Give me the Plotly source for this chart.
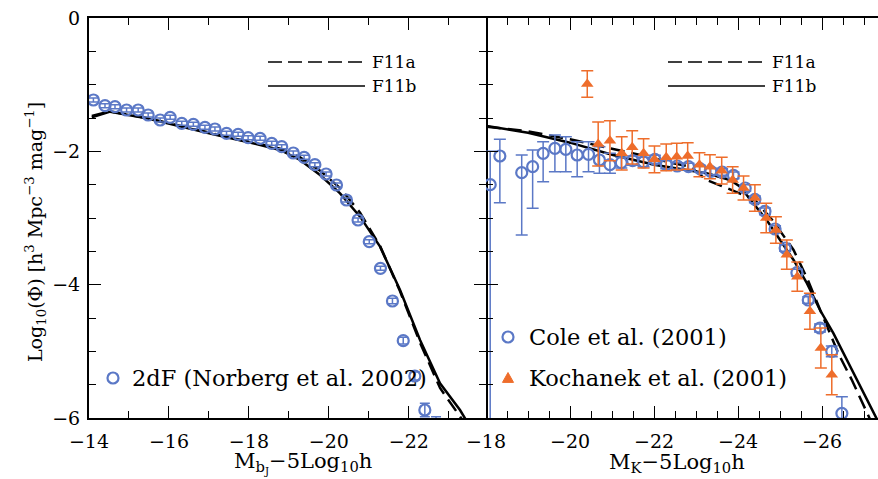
import plotly.graph_objects as go

# ---------------- data ----------------
# Left panel: 2dF bJ luminosity function (Norberg et al. 2002)
m_2df = [-14.11, -14.40, -14.65, -14.94, -15.23, -15.48, -15.78, -16.03, -16.32, -16.61,
         -16.90, -17.15, -17.44, -17.73, -17.98, -18.28, -18.57, -18.82, -19.11, -19.38,
         -19.65, -19.93, -20.19, -20.44, -20.73, -21.01, -21.29, -21.59, -21.86, -22.15,
         -22.40, -22.68]
phi_2df = [-1.23, -1.315, -1.33, -1.38, -1.38, -1.455, -1.53, -1.49, -1.58, -1.595,
           -1.64, -1.665, -1.73, -1.745, -1.795, -1.805, -1.88, -1.93, -2.025, -2.09,
           -2.20, -2.34, -2.505, -2.73, -3.03, -3.355, -3.755, -4.245, -4.84, -5.37,
           -5.88, -6.10]
err_2df = [0.03, 0.03, 0.03, 0.03, 0.03, 0.03, 0.03, 0.03, 0.03, 0.03,
           0.03, 0.03, 0.03, 0.03, 0.03, 0.03, 0.03, 0.03, 0.03, 0.03,
           0.03, 0.03, 0.03, 0.03, 0.03, 0.03, 0.03, 0.04, 0.05, 0.06,
           0.10, 0.12]

# Left panel models
m_left_a = [-14.07, -14.53, -15.44, -16.28, -17.11, -17.94, -18.78, -19.28, -19.78, -20.28,
            -20.78, -21.28, -21.78, -22.28, -22.78, -23.28, -23.40]
phi_left_a = [-1.47, -1.40, -1.50, -1.62, -1.74, -1.85, -1.96, -2.09, -2.29, -2.55,
              -2.92, -3.42, -4.10, -4.87, -5.55, -5.98, -6.08]
m_left_b = [-14.07, -14.53, -15.44, -16.28, -17.11, -17.94, -18.78, -19.28, -19.78, -20.28,
            -20.78, -21.28, -21.78, -22.28, -22.78, -23.28, -23.45]
phi_left_b = [-1.49, -1.405, -1.505, -1.63, -1.745, -1.855, -1.98, -2.13, -2.355, -2.63,
              -2.98, -3.43, -4.08, -4.83, -5.48, -5.88, -6.05]

# Right panel: K-band, Cole et al. (2001)
m_cole = [-18.10, -18.33, -18.85, -19.11, -19.36, -19.64, -19.90, -20.17, -20.44, -20.70,
          -20.95, -21.22, -21.49, -21.75, -22.02, -22.29, -22.55, -22.82, -23.09, -23.35,
          -23.62, -23.89, -24.17, -24.40, -24.64, -24.88, -25.12, -25.40, -25.67, -25.95,
          -26.23, -26.47]
phi_cole = [-2.50, -2.07, -2.32, -2.23, -2.03, -1.955, -1.97, -2.055, -2.045, -2.13,
            -2.20, -2.17, -2.14, -2.16, -2.12, -2.20, -2.22, -2.23, -2.26, -2.30,
            -2.31, -2.36, -2.55, -2.72, -2.90, -3.165, -3.45, -3.82, -4.23, -4.65,
            -5.00, -5.93]
err_cole_up = [0.50, 0.25, 0.265, 0.25, 0.175, 0.20, 0.19, 0.20, 0.19, 0.20,
               0.17, 0.08, 0.07, 0.07, 0.06, 0.06, 0.05, 0.05, 0.05, 0.05,
               0.05, 0.05, 0.05, 0.05, 0.05, 0.05, 0.05, 0.05, 0.05, 0.06,
               0.08, 0.25]
err_cole_dn = [4.00, 0.70, 0.935, 0.625, 0.425, 0.35, 0.335, 0.325, 0.26, 0.20,
               0.13, 0.08, 0.07, 0.07, 0.06, 0.06, 0.05, 0.05, 0.05, 0.05,
               0.05, 0.05, 0.05, 0.05, 0.05, 0.05, 0.05, 0.05, 0.05, 0.06,
               0.08, 0.30]

# Right panel: Kochanek et al. (2001)
m_koch = [-20.41, -20.67, -20.95, -21.23, -21.48, -21.75, -22.01, -22.29, -22.54, -22.80,
          -23.08, -23.33, -23.61, -23.87, -24.13, -24.40, -24.67, -24.90, -25.16, -25.41,
          -25.71, -25.97, -26.23]
phi_koch = [-0.99, -1.89, -1.84, -2.03, -1.94, -2.03, -2.12, -2.09, -2.08, -2.07,
            -2.20, -2.23, -2.29, -2.43, -2.55, -2.70, -3.00, -3.18, -3.55, -3.88,
            -4.40, -4.95, -5.35]
err_koch = [0.20, 0.33, 0.30, 0.25, 0.25, 0.22, 0.20, 0.20, 0.20, 0.20,
            0.18, 0.18, 0.20, 0.20, 0.18, 0.20, 0.22, 0.20, 0.22, 0.22,
            0.27, 0.30, 0.30]

# Right panel models
m_right_a = [-18.02, -19.0, -20.0, -21.0, -21.67, -22.46, -22.86, -23.25, -23.73, -24.40,
             -24.84, -25.32, -25.64, -26.00, -26.40, -26.70, -27.10, -27.20]
phi_right_a = [-1.63, -1.70, -1.82, -1.96, -2.055, -2.18, -2.23, -2.43, -2.55, -2.73,
               -3.05, -3.48, -3.90, -4.45, -5.05, -5.42, -5.98, -6.10]
m_right_b = [-18.02, -19.0, -20.0, -21.0, -22.0, -22.86, -23.25, -23.81, -24.05, -24.36,
             -24.68, -25.0, -25.32, -25.64, -25.95, -26.27, -26.59, -26.90, -27.22, -27.33]
phi_right_b = [-1.62, -1.72, -1.87, -2.05, -2.20, -2.29, -2.33, -2.43, -2.53, -2.78,
               -3.03, -3.33, -3.63, -3.98, -4.38, -4.73, -5.13, -5.53, -5.93, -6.05]

# axis settings
x_left_range = [-14, -23.93]
x_right_range = [-18, -27.33]
y_range = [-6, 0]
x_left_ticks = [-14, -16, -18, -20, -22]
x_right_ticks = [-18, -20, -22, -24, -26]
y_ticks = [0, -2, -4, -6]

BLUE = "#5b78c6"
ORANGE = "#ee6d2b"
FONT = "DejaVu Serif"

fig = go.Figure()

# ---- left panel ----
fig.add_trace(go.Scatter(x=m_left_a, y=phi_left_a, mode="lines", xaxis="x", yaxis="y",
                         line=dict(color="black", width=2.5, dash="14px,7px"), name="F11a"))
fig.add_trace(go.Scatter(x=m_left_b, y=phi_left_b, mode="lines", xaxis="x", yaxis="y",
                         line=dict(color="black", width=2.5), name="F11b"))
fig.add_trace(go.Scatter(x=m_2df, y=phi_2df, mode="markers", xaxis="x", yaxis="y",
                         marker=dict(symbol="circle-open", size=11, color=BLUE, line=dict(width=2.2)),
                         error_y=dict(type="data", array=err_2df, color=BLUE, thickness=1.5, width=5),
                         name="2dF"))

# ---- right panel ----
fig.add_trace(go.Scatter(x=m_right_a, y=phi_right_a, mode="lines", xaxis="x2", yaxis="y2",
                         line=dict(color="black", width=2.5, dash="14px,7px"), name="F11a"))
fig.add_trace(go.Scatter(x=m_right_b, y=phi_right_b, mode="lines", xaxis="x2", yaxis="y2",
                         line=dict(color="black", width=2.5), name="F11b"))
fig.add_trace(go.Scatter(x=m_cole, y=phi_cole, mode="markers", xaxis="x2", yaxis="y2",
                         marker=dict(symbol="circle-open", size=11, color=BLUE, line=dict(width=2.2)),
                         error_y=dict(type="data", symmetric=False, array=err_cole_up,
                                      arrayminus=err_cole_dn, color=BLUE, thickness=1.5, width=6),
                         name="Cole"))
fig.add_trace(go.Scatter(x=m_koch, y=phi_koch, mode="markers", xaxis="x2", yaxis="y2",
                         marker=dict(symbol="triangle-up", size=11, color=ORANGE),
                         error_y=dict(type="data", array=err_koch, color=ORANGE, thickness=1.5, width=6),
                         name="Kochanek"))

X0, XM, X1 = 89 / 878, 486 / 878, 1.0
Y0, Y1 = 1 - 418 / 479, 1 - 18 / 479

common = dict(linecolor="black", linewidth=2, ticks="inside", ticklen=12,
              tickwidth=1.3, tickcolor="black", showgrid=False, zeroline=False,
              tickfont=dict(family=FONT, size=19, color="black"))
minor_y = dict(dtick=0.5, tick0=0, ticks="inside", ticklen=7, tickcolor="black", tickwidth=1.3)

fig.update_layout(
    width=878, height=479, margin=dict(l=0, r=0, t=0, b=0, pad=0, autoexpand=False),
    paper_bgcolor="white", plot_bgcolor="white", showlegend=False,
    font=dict(family=FONT, color="black"),
    xaxis=dict(domain=[X0, XM], range=x_left_range, anchor="y", tickvals=x_left_ticks,
               ticktext=["\u221214", "\u221216", "\u221218", "\u221220", "\u221222"],
               showline=True, mirror="allticks", ticklabelstandoff=5,
               minor=dict(dtick=1, tick0=-14, ticks="inside", ticklen=7, tickcolor="black", tickwidth=1.3),
               **common),
    yaxis=dict(domain=[Y0, Y1], range=y_range, anchor="x", tickvals=y_ticks,
               ticktext=["0", "\u22122", "\u22124", "\u22126"], showline=True, mirror="allticks",
               ticklabelstandoff=3, minor=minor_y, **common),
    xaxis2=dict(domain=[XM, X1], range=x_right_range, anchor="y2", tickvals=x_right_ticks,
                ticktext=["\u221218", "\u221220", "\u221222", "\u221224", "\u221226"],
                showline=True, mirror="allticks", ticklabelstandoff=5,
                minor=dict(dtick=0.5, tick0=-18, ticks="inside", ticklen=7, tickcolor="black", tickwidth=1.3),
                **common),
    yaxis2=dict(domain=[Y0, Y1], range=y_range, anchor="x2", tickvals=y_ticks,
                showticklabels=False, showline=False, mirror=False,
                minor=minor_y, **common),
)

ann = []
shapes = []


def add_text(px, py, text, size, xanchor="center", angle=0):
    ann.append(dict(x=px / 878, y=1 - py / 479, xref="paper", yref="paper", showarrow=False,
                    xanchor=xanchor, yanchor="middle", textangle=angle, text=text,
                    font=dict(family=FONT, size=size, color="black")))


# axis titles
add_text(303, 463, "M<sub>b<sub>J</sub></sub>\u22125Log<sub>10</sub>h", 21)
add_text(677, 463, "M<sub>K</sub>\u22125Log<sub>10</sub>h", 21)
add_text(35, 232, "Log<sub>10</sub>(\u03a6) [h<sup>3</sup> Mpc<sup>\u22123</sup> mag<sup>\u22121</sup>]",
         19, angle=-90)

# model key (top of each panel)
for (lx0, lx1, tx) in [(268, 365, 370), (668, 765, 770)]:
    for (yy, lab, dash) in [(62, "F11a", "14px,6px"), (86, "F11b", "solid")]:
        shapes.append(dict(type="line", xref="paper", yref="paper", x0=lx0 / 878, x1=lx1 / 878,
                           y0=1 - yy / 479, y1=1 - yy / 479,
                           line=dict(color="black", width=1.6, dash=dash)))
        add_text(tx, yy, lab, 17, xanchor="left")


# data key
def circle_key(cx, cy):
    r = 5.5
    shapes.append(dict(type="circle", xref="paper", yref="paper",
                       x0=(cx - r) / 878, x1=(cx + r) / 878, y0=1 - (cy + r) / 479, y1=1 - (cy - r) / 479,
                       line=dict(color=BLUE, width=2.2)))


def tri_key(cx, cy):
    h = 5.5
    p = "M {:.4f} {:.4f} L {:.4f} {:.4f} L {:.4f} {:.4f} Z".format(
        (cx - h) / 878, 1 - (cy + h * 0.8) / 479, (cx + h) / 878, 1 - (cy + h * 0.8) / 479,
        cx / 878, 1 - (cy - h) / 479)
    shapes.append(dict(type="path", xref="paper", yref="paper", path=p,
                       fillcolor=ORANGE, line=dict(color=ORANGE, width=1)))


circle_key(113, 378)
add_text(130, 378, "2dF (Norberg et al. 2002)", 22.5, xanchor="left")
circle_key(508, 337)
add_text(527, 337, "Cole et al. (2001)", 22.5, xanchor="left")
tri_key(508, 378)
add_text(527, 378, "Kochanek et al. (2001)", 22.5, xanchor="left")

fig.update_layout(annotations=ann, shapes=shapes)
fig.write_html("out.html")
